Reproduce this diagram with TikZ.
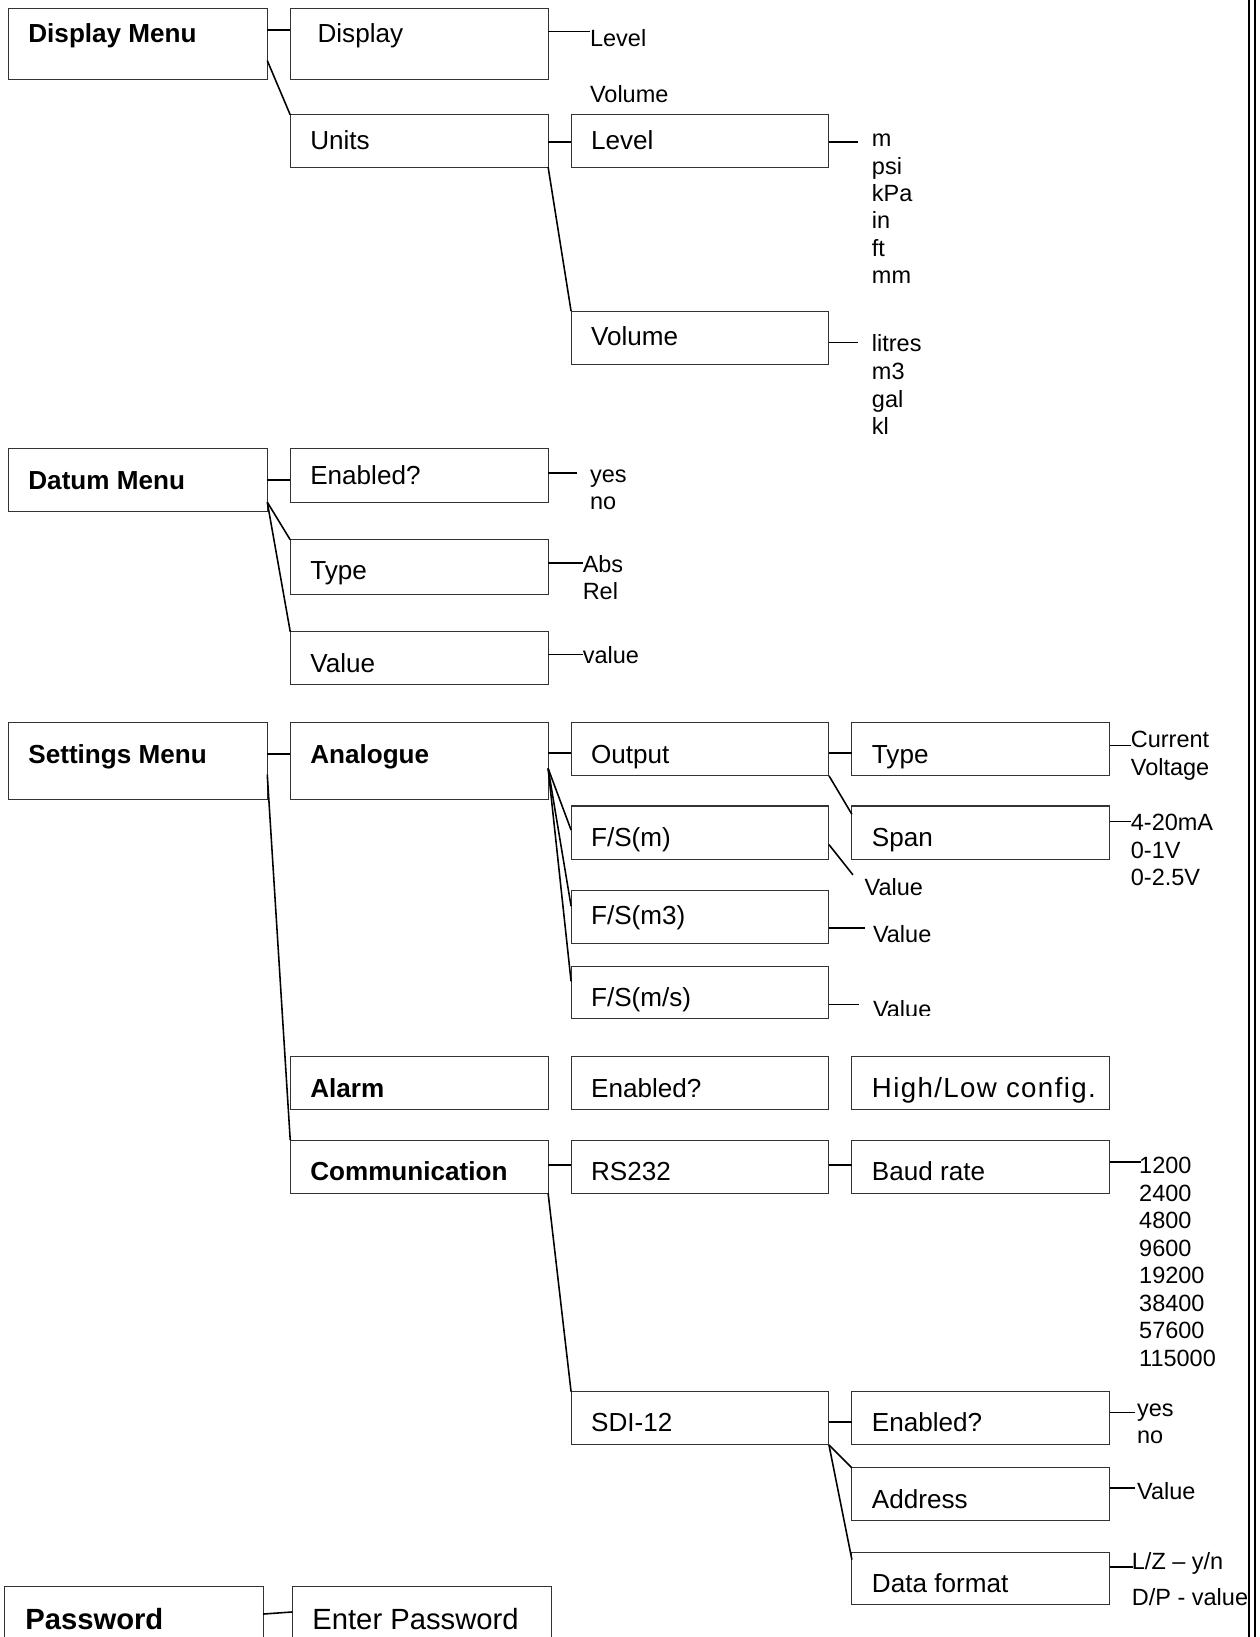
\documentclass[tikz,border=0pt]{standalone}
\usepackage{fontspec}
\setmainfont{Liberation Sans}
\tikzset{
  box/.style={draw=black!80, line width=1bp, anchor=north west, inner sep=0pt, outer sep=0pt},
  btxt/.style={anchor=west, inner sep=0pt, text height=18bp, text depth=0bp, font=\fontsize{25bp}{30bp}\selectfont},
  btxtb/.style={btxt, font=\fontsize{25bp}{30bp}\selectfont\bfseries},
  ptxt/.style={anchor=west, inner sep=0pt, text height=20bp, text depth=0bp, font=\fontsize{28bp}{33bp}\selectfont},
  ptxtb/.style={ptxt, font=\fontsize{28bp}{33bp}\selectfont\bfseries},
  ltxt/.style={anchor=west, inner sep=0pt, text height=16.2bp, text depth=0bp, font=\fontsize{22.5bp}{27bp}\selectfont},
  conn/.style={line width=1.5bp, black}
}
\newcommand\bx[5]{\node[box, minimum width=#4bp-#2bp, minimum height=#5bp-#3bp] (#1) at (#2,#3) {};}
\begin{document}
\begin{tikzpicture}[x=1bp,y=-1bp]
\useasboundingbox (0,0) rectangle (1206,1568);
\clip (0,0) rectangle (1206,1568);
% boxes
\bx{dm}{8}{8}{256}{76}
\bx{disp}{278}{8}{525}{76}
\bx{units}{278}{110}{525}{160}
\bx{lvl}{547}{110}{794}{160}
\bx{vol}{547}{298}{794}{349}
\bx{datum}{8}{430}{256}{490}
\bx{den}{278}{430}{525}{481}
\bx{dtype}{278}{517}{525}{569}
\bx{dval}{278}{605}{525}{656}
\bx{set}{8}{692}{256}{766}
\bx{ana}{278}{692}{525}{766}
\bx{out}{547}{692}{794}{743}
\bx{otype}{816}{692}{1063}{743}
\bx{fsm}{547}{772}{794}{823}
\bx{span}{816}{772}{1063}{823}
\bx{fsmt}{547}{853}{794}{904}
\bx{fsms}{547}{926}{794}{976}
\bx{alarm}{278}{1012}{525}{1063}
\bx{aen}{547}{1012}{794}{1063}
\bx{hl}{816}{1012}{1063}{1063}
\bx{comm}{278}{1092}{525}{1143}
\bx{rs}{547}{1092}{794}{1143}
\bx{baud}{816}{1092}{1063}{1143}
\bx{sdi}{547}{1333}{794}{1384}
\bx{sen}{816}{1333}{1063}{1384}
\bx{addr}{816}{1406}{1063}{1456}
\bx{dfmt}{816}{1487}{1063}{1537}
\bx{pw}{4}{1520}{252}{1610}
\bx{epw}{280}{1520}{528}{1610}
% box texts
\node[btxtb] (dmT) at (27,32) {Display Menu};
\node[btxt] (dispT) at (304,32) {Display};
\node[btxt] (unitsT) at (297,134) {Units};
\node[btxt] (lvlT) at (566,134) {Level};
\node[btxt] (volT) at (566,322) {Volume};
\node[btxtb] (datumT) at (27,460) {Datum Menu};
\node[btxt] (denT) at (297,455) {Enabled?};
\node[btxt] (dtypeT) at (297,546) {Type};
\node[btxt] (dvalT) at (297,635) {Value};
\node[btxtb] (setT) at (27,722) {Settings Menu};
\node[btxtb] (anaT) at (297,722) {Analogue};
\node[btxt] (outT) at (566,722) {Output};
\node[btxt] (otypeT) at (835,722) {Type};
\node[btxt] (fsmT) at (566,802) {F/S(m)};
\node[btxt] (spanT) at (835,802) {Span};
\node[btxt] (fsmtT) at (566,877) {F/S(m3)};
\node[btxt] (fsmsT) at (566,955) {F/S(m/s)};
\node[btxtb] (alarmT) at (297,1042) {Alarm};
\node[btxt] (aenT) at (566,1042) {Enabled?};
\node[btxt, text height=19bp, font=\fontsize{26.5bp}{31bp}\selectfont] (hlT) at (835,1042) {\addfontfeatures{LetterSpace=5}High/Low config.};
\node[btxtb] (commT) at (297,1122) {Communication};
\node[btxt] (rsT) at (566,1122) {RS232};
\node[btxt] (baudT) at (835,1122) {Baud rate};
\node[btxt] (sdiT) at (566,1362) {SDI-12};
\node[btxt] (senT) at (835,1362) {Enabled?};
\node[btxt] (addrT) at (835,1436) {Address};
\node[btxt] (dfmtT) at (835,1516) {Data format};
\node[ptxtb] (pwT) at (24,1551) {Password};
\node[ptxt] (epwT) at (299,1551) {Enter Password};
% labels
\node[ltxt] (dlev) at (565,36) {Level};
\node[ltxt] (dvol) at (565,90) {Volume};
\foreach \t [count=\i from 0] in {m,psi,kPa,in,ft,mm}
  \node[ltxt] (lu\i) at (835,132.5+26.2*\i) {\t};
\foreach \t [count=\i from 0] in {litres,m3,gal,kl}
  \node[ltxt] (vu\i) at (835,329+26.4*\i) {\t};
\node[ltxt] (dyes) at (565,454) {yes};
\node[ltxt] (dno) at (565,479.5) {no};
\node[ltxt] (dabs) at (558,540) {Abs};
\node[ltxt] (drel) at (558,566) {Rel};
\node[ltxt] (dv) at (558,627) {value};
\node[ltxt] (cur) at (1083,708) {Current};
\node[ltxt] (volt) at (1083,734.5) {Voltage};
\node[ltxt] (sp0) at (1083,787.5) {4-20mA};
\node[ltxt] (sp1) at (1083,814) {0-1V};
\node[ltxt] (sp2) at (1083,840.5) {0-2.5V};
\node[ltxt] (fv1) at (828,850) {Value};
\node[ltxt] (fv2) at (836,894.5) {Value};
\begin{scope}
\clip (800,940) rectangle (950,973);
\node[ltxt] (fv3) at (836,966.5) {Value};
\end{scope}
\foreach \t [count=\i from 0] in {1200,2400,4800,9600,19200,38400,57600,115000}
  \node[ltxt] (br\i) at (1091,1116+26.4*\i) {\t};
\node[ltxt] (syes) at (1089,1349) {yes};
\node[ltxt] (sno) at (1089,1374.5) {no};
\node[ltxt] (sval) at (1089,1428) {Value};
\node[ltxt] (lz) at (1084,1495) {L/Z – y/n};
\node[ltxt] (dp) at (1084,1530) {D/P - value};
% connectors
\draw[conn] (dm.east |- 0,29) -- (disp.west |- 0,29);
\draw[conn] (dm.east |- 0,58) -- (units.north west);
\draw[conn] (disp.east |- 0,30) -- (dlev.west |- 0,30);
\draw[conn] (units.east |- 0,136) -- (lvl.west |- 0,136);
\draw[conn] (units.south east) -- (vol.north west);
\draw[conn] (lvl.east |- 0,136) -- ++(28,0);
\draw[conn] (vol.east |- 0,328) -- ++(28,0);
\draw[conn] (datum.east |- 0,460) -- (den.west |- 0,460);
\draw[conn] (datum.east |- 0,481) -- (dtype.north west);
\draw[conn] (datum.east |- 0,481) -- (dval.north west);
\draw[conn] (den.east |- 0,453) -- ++(28,0);
\draw[conn] (dtype.east |- 0,539) -- (dabs.west |- 0,539);
\draw[conn] (dval.east |- 0,627) -- (dv.west |- 0,627);
\draw[conn] (set.east |- 0,722) -- (ana.west |- 0,722);
\draw[conn] (set.east |- 0,742) -- (comm.north west);
\draw[conn] (ana.east |- 0,721) -- (out.west |- 0,721);
\draw[conn] (ana.east |- 0,736) -- (fsm.west |- 0,795);
\draw[conn] (ana.east |- 0,736) -- (fsmt.west |- 0,868);
\draw[conn] (ana.east |- 0,736) -- (fsms.west |- 0,940);
\draw[conn] (out.east |- 0,721) -- (otype.west |- 0,721);
\draw[conn] (out.south east) -- (span.west |- 0,780);
\draw[conn] (otype.east |- 0,714) -- (cur.west |- 0,714);
\draw[conn] (span.east |- 0,787) -- (sp0.west |- 0,787);
\draw[conn] (fsm.east |- 0,809) -- (817,838);
\draw[conn] (fsmt.east |- 0,889) -- ++(35,0);
\draw[conn] (fsms.east |- 0,962) -- ++(29,0);
\draw[conn] (comm.east |- 0,1116) -- (rs.west |- 0,1116);
\draw[conn] (comm.south east) -- (sdi.north west);
\draw[conn] (rs.east |- 0,1116) -- (baud.west |- 0,1116);
\draw[conn] (baud.east |- 0,1113) -- ++(30,0);
\draw[conn] (sdi.east |- 0,1362) -- (sen.west |- 0,1362);
\draw[conn] (sdi.south east) -- (addr.north west);
\draw[conn] (sdi.south east) -- (dfmt.west |- 0,1494);
\draw[conn] (sen.east |- 0,1353) -- ++(24,0);
\draw[conn] (addr.east |- 0,1425) -- ++(24,0);
\draw[conn] (dfmt.east |- 0,1501) -- ++(22,0);
\draw[conn] (pw.east |- 0,1546) -- (epw.west |- 0,1544);
% right border double rule
\draw[line width=1.6bp] (1196.5,0) -- (1196.5,1568);
\draw[line width=2.4bp] (1202,0) -- (1202,1568);
\end{tikzpicture}
\end{document}
